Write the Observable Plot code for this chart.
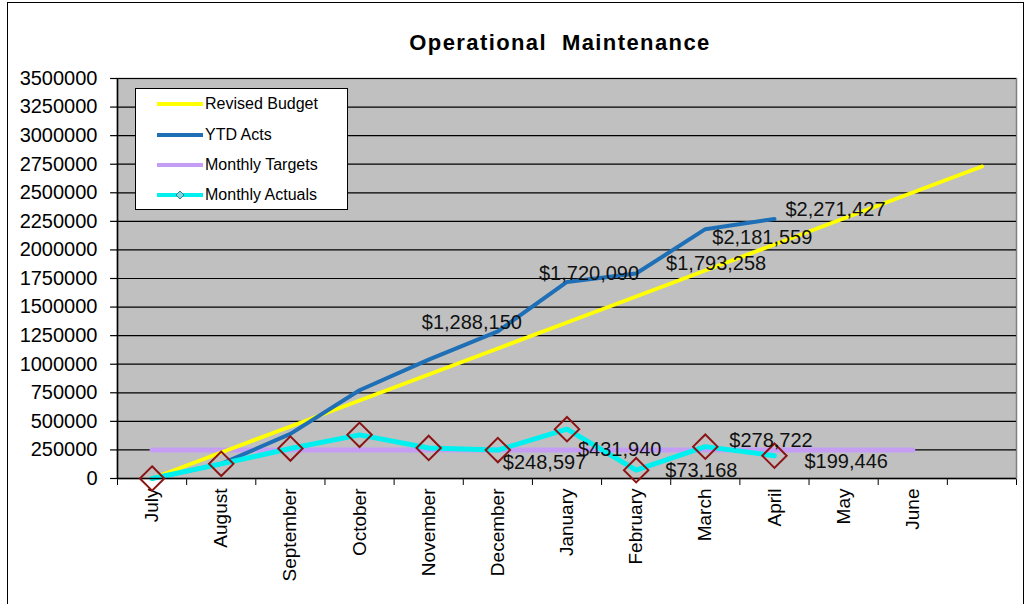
<!DOCTYPE html>
<html>
<head>
<meta charset="utf-8">
<script src="https://cdn.jsdelivr.net/npm/d3@7"></script>
<script src="https://cdn.jsdelivr.net/npm/@observablehq/plot@0.6"></script>
<style>
  body { margin: 0; background: #fff; font-family: "Liberation Sans", Arial, sans-serif; }
  #wrap { position: relative; width: 1028px; height: 604px; overflow: hidden; background: #fff; }
  #frame { position: absolute; left: 7px; top: 2px; width: 1015px; height: 660px; border: 1.5px solid #000; pointer-events: none; }
  #title { position: absolute; left: 0; top: 29px; width: 1120px; text-align: center; font-weight: bold; font-size: 22px; line-height: 28px; letter-spacing: 1.4px; color: #000; }
  #chart { position: absolute; left: 0; top: 0; }
  #legend { position: absolute; left: 135px; top: 88px; width: 211px; height: 120px; background: #fff; border: 1px solid #000; font-size: 16px; color: #000; }
  .row { position: absolute; left: 0; height: 20px; width: 211px; }
  .row svg { position: absolute; left: 20px; top: 0; }
  .row span { position: absolute; left: 69px; top: 1px; line-height: 18px; white-space: nowrap; }
</style>
</head>
<body>
<div id="wrap">
  <div id="chart"></div>
  <div id="title">Operational&nbsp; Maintenance</div>
  <div id="legend"></div>
  <div id="frame"></div>
</div>
<script>
// ---- data ----
const months = ["July", "August", "September", "October", "November", "December",
                "January", "February", "March", "April", "May", "June", ""];
const revisedBudget = [0, 227500, 455000, 682500, 910000, 1137500, 1365000,
                       1592500, 1820000, 2047500, 2275000, 2502500, 2730000];
const ytdActs = [0, 128000, 390000, 772000, 1039553, 1288150, 1720090, 1793258, 2181559, 2271427];
const monthlyTargets = [250000, 250000, 250000, 250000, 250000, 250000,
                        250000, 250000, 250000, 250000, 250000, 250000];
const monthlyActuals = [0, 128000, 262000, 382000, 267553, 248597, 431940, 73168, 278722, 199446];
const yTicks = [0, 250000, 500000, 750000, 1000000, 1250000, 1500000, 1750000,
                2000000, 2250000, 2500000, 2750000, 3000000, 3250000, 3500000];
const ytdLabelMonths = ["December", "January", "February", "March", "April"];
const actualLabelMonths = ["December", "January", "February", "March", "April"];

const seriesNames = ["Revised Budget", "YTD Acts", "Monthly Targets", "Monthly Actuals"];
const seriesColors = ["#ffff00", "#1f6fb6", "#c59df5", "#00f0f0"];

// ---- helpers ----
const pos = i => i + 0.5;
const fmt = d3.format("$,");
const toRows = arr => arr.map((v, i) => ({i, v}));

const budgetRows = toRows(revisedBudget);
const ytdRows = toRows(ytdActs);
const targetRows = toRows(monthlyTargets);
const actualRows = toRows(monthlyActuals);
const monthRows = months.map((m, i) => ({i, m}));

const ytdNudge = [[-26, -9], [22, -8], [80, -10], [57, 8], [61, -9]];
const actNudge = [[5, 13], [11, 20], [29, 0], [24, -6], [30, 6]];

const ytdLabelMarks = ytdLabelMonths.map((m, k) => {
  const i = months.indexOf(m);
  return Plot.text([ytdRows[i]], {
    x: d => pos(d.i), y: "v", text: d => fmt(d.v),
    textAnchor: "middle", dx: ytdNudge[k][0], dy: ytdNudge[k][1],
    fontSize: 20, fill: "#111"
  });
});
const actLabelMarks = actualLabelMonths.map((m, k) => {
  const i = months.indexOf(m);
  return Plot.text([actualRows[i]], {
    x: d => pos(d.i), y: "v", text: d => fmt(d.v),
    textAnchor: "start", dx: actNudge[k][0], dy: actNudge[k][1],
    fontSize: 20, fill: "#111"
  });
});

const chart = Plot.plot({
  width: 1028,
  height: 604,
  marginLeft: 117,
  marginRight: 12,
  marginTop: 78,
  marginBottom: 126,
  style: { background: "transparent", fontFamily: "Liberation Sans, Arial, sans-serif", fontSize: "19px", color: "#000" },
  x: { domain: [0, months.length], ticks: months.length, tickFormat: () => "", tickSize: 7, label: null },
  y: { domain: [0, 3500000], axis: null },
  marks: [
    Plot.frame({ fill: "#c0c0c0", stroke: "#808080", strokeWidth: 1.5 }),
    Plot.ruleY(yTicks, { stroke: "#000", strokeWidth: 1.2 }),
    Plot.ruleY(yTicks, { x1: -0.1, x2: 0, stroke: "#000", strokeWidth: 1.2 }),
    Plot.text(yTicks, { x: 0, y: d => d, text: d => String(d), textAnchor: "end", dx: -20, fontSize: 20, fill: "#000" }),
    Plot.text(monthRows, { x: d => pos(d.i), y: 0, text: "m", rotate: -90, textAnchor: "end", dy: 10, fontSize: 19, fill: "#000" }),
    Plot.line(targetRows, { x: d => pos(d.i), y: "v", stroke: seriesColors[2], strokeWidth: 5 }),
    Plot.line(budgetRows, { x: d => pos(d.i), y: "v", stroke: seriesColors[0], strokeWidth: 4 }),
    Plot.line(ytdRows, { x: d => pos(d.i), y: "v", stroke: seriesColors[1], strokeWidth: 4 }),
    Plot.line(actualRows, { x: d => pos(d.i), y: "v", stroke: seriesColors[3], strokeWidth: 5 }),
    Plot.ruleX([0], { stroke: "#000", strokeWidth: 1.5 }),
    Plot.ruleY([0], { stroke: "#000", strokeWidth: 1.5 }),
    Plot.dot(actualRows, { x: d => pos(d.i), y: "v", symbol: "diamond2", r: 11, stroke: "#8b1414", strokeWidth: 2, fill: "none" }),
    ...ytdLabelMarks,
    ...actLabelMarks
  ]
});
document.getElementById("chart").appendChild(chart);

// legend
const legend = document.getElementById("legend");
const rowTops = [5, 36, 66, 96];
seriesNames.forEach((name, k) => {
  const row = document.createElement("div");
  row.className = "row";
  row.style.top = rowTops[k] + "px";
  let svg = `<svg width="48" height="20"><line x1="1" x2="47" y1="10" y2="10" stroke="${seriesColors[k]}" stroke-width="4"/>`;
  if (k === 3) svg += `<path d="M24,6 L28,10 L24,14 L20,10 Z" fill="#7fd6dc" stroke="#2f7f8f" stroke-width="1"/>`;
  svg += `</svg>`;
  row.innerHTML = svg + `<span>${name}</span>`;
  legend.appendChild(row);
});
</script>
</body>
</html>
